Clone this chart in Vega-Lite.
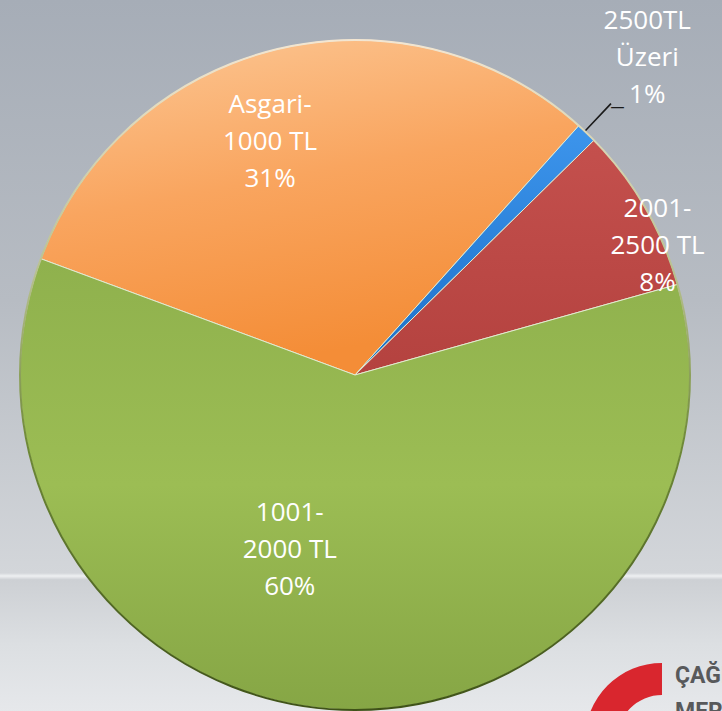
{
  "$schema": "https://vega.github.io/schema/vega-lite/v6.json",
  "width": 710,
  "height": 750,
  "padding": {"left": 0, "top": 0, "right": 12, "bottom": 0},
  "autosize": {"type": "none"},
  "background": "#c4c8cd",
  "config": {
    "view": {"stroke": null},
    "text": {"font": "Open Sans", "fontSize": 26, "fill": "#ffffff", "lineHeight": 37, "align": "center", "baseline": "middle"}
  },
  "data": {
    "values": [
      {"cat": "Asgari-1000 TL", "pct": 31, "ord": 1, "label": ["Asgari-", "1000 TL", "31%"]},
      {"cat": "2500TL Üzeri", "pct": 1, "ord": 2, "label": ["2500TL", "Üzeri", "1%"]},
      {"cat": "2001-2500 TL", "pct": 8, "ord": 3, "label": ["2001-", "2500 TL", "8%"]},
      {"cat": "1001-2000 TL", "pct": 60, "ord": 4, "label": ["1001-", "2000 TL", "60%"]}
    ]
  },
  "layer": [
    {
      "transform": [{"filter": "datum.ord === 1"}],
      "mark": {"type": "rect", "x": 0, "x2": {"expr": "width + 12"}, "y": 0, "y2": {"expr": "height"}, "fill": {"gradient": "linear", "x1": 0, "y1": 0, "x2": 0, "y2": 1, "stops": [{"offset": 0, "color": "#a6adb7"}, {"offset": 0.4, "color": "#b7bcc3"}, {"offset": 0.764, "color": "#d3d6da"}, {"offset": 0.768, "color": "#eef0f2"}, {"offset": 0.773, "color": "#cdd0d4"}, {"offset": 0.86, "color": "#dcdfe2"}, {"offset": 0.95, "color": "#e6e8eb"}]}},
      "encoding": {}
    },
    {
      "transform": [{"filter": "datum.ord === 1"}],
      "mark": {"type": "arc", "x": 662, "y": 740, "radius": 77, "radius2": 45, "theta": 4.712, "theta2": 6.283, "fill": "#d9262e"},
      "encoding": {}
    },
    {
      "transform": [{"filter": "datum.ord === 1"}],
      "mark": {"type": "text", "text": "ÇAĞRI", "x": 675, "y": 683, "align": "left", "baseline": "alphabetic", "font": "Roboto", "fontWeight": "bold", "fontSize": 23, "fill": "#58595b"},
      "encoding": {}
    },
    {
      "transform": [{"filter": "datum.ord === 1"}],
      "mark": {"type": "text", "text": "MERKEZİ", "x": 675, "y": 719, "align": "left", "baseline": "alphabetic", "font": "Roboto", "fontWeight": "bold", "fontSize": 23, "fill": "#58595b"},
      "encoding": {}
    },
    {
      "mark": {"type": "arc", "outerRadius": 335},
      "encoding": {
        "theta": {"field": "pct", "type": "quantitative", "stack": true, "scale": {"domain": [0, 100], "range": [5.067, 11.350]}},
        "order": {"field": "ord", "type": "quantitative"},
        "fill": {
          "condition": [
            {"test": "datum.cat === 'Asgari-1000 TL'", "value": {"gradient": "linear", "x1": 0, "y1": 0, "x2": 0.3, "y2": 1, "stops": [{"offset": 0, "color": "#fcc896"}, {"offset": 0.5, "color": "#f9a55f"}, {"offset": 1, "color": "#f48d37"}]}},
            {"test": "datum.cat === '2500TL Üzeri'", "value": {"gradient": "linear", "x1": 0, "y1": 0, "x2": 0, "y2": 1, "stops": [{"offset": 0, "color": "#3d95ec"}, {"offset": 1, "color": "#1b6fc8"}]}},
            {"test": "datum.cat === '2001-2500 TL'", "value": {"gradient": "linear", "x1": 0, "y1": 0, "x2": 0, "y2": 1, "stops": [{"offset": 0, "color": "#c4504d"}, {"offset": 1, "color": "#b4423f"}]}}
          ],
          "value": {"gradient": "linear", "x1": 0, "y1": 0, "x2": 0, "y2": 1, "stops": [{"offset": 0, "color": "#8fb14d"}, {"offset": 0.5, "color": "#9cbd54"}, {"offset": 1, "color": "#86a645"}]}
        },
        "stroke": {"value": "#e2ead0"},
        "strokeWidth": {"value": 1}
      }
    },
    {
      "transform": [{"filter": "datum.ord === 1"}],
      "mark": {"type": "arc", "outerRadius": 335, "fill": null, "strokeWidth": 2, "stroke": {"gradient": "linear", "x1": 0, "y1": 0, "x2": 0, "y2": 1, "stops": [{"offset": 0, "color": "#f3e6d2"}, {"offset": 0.35, "color": "#b7c08f"}, {"offset": 0.6, "color": "#6f8a38"}, {"offset": 1, "color": "#3f5218"}]}},
      "encoding": {}
    },
    {
      "transform": [{"filter": "datum.ord === 1"}],
      "mark": {"type": "arc", "theta": 0.754, "theta2": 0.7585, "radius": 336, "radius2": 373, "fill": "#1a1a1a"},
      "encoding": {}
    },
    {
      "transform": [{"filter": "datum.ord === 1"}],
      "mark": {"type": "text", "text": "—", "theta": 0.757, "radius": 372, "dx": 7, "dy": 3, "fontSize": 14, "fill": "#1a1a1a"},
      "encoding": {}
    },
    {
      "mark": {"type": "text", "radius": 250, "dx": -25, "dy": -27},
      "encoding": {
        "theta": {"field": "pct", "type": "quantitative", "stack": true, "scale": {"domain": [0, 100], "range": [5.067, 11.350]}},
        "order": {"field": "ord", "type": "quantitative"},
        "text": {"condition": {"test": "datum.ord === 1", "field": "label"}, "value": ""}
      }
    },
    {
      "mark": {"type": "text", "radius": 420, "dx": 2, "dy": -50},
      "encoding": {
        "theta": {"field": "pct", "type": "quantitative", "stack": true, "scale": {"domain": [0, 100], "range": [5.067, 11.350]}},
        "order": {"field": "ord", "type": "quantitative"},
        "text": {"condition": {"test": "datum.ord === 2", "field": "label"}, "value": ""}
      }
    },
    {
      "mark": {"type": "text", "radius": 330, "dx": 17, "dy": -1},
      "encoding": {
        "theta": {"field": "pct", "type": "quantitative", "stack": true, "scale": {"domain": [0, 100], "range": [5.067, 11.350]}},
        "order": {"field": "ord", "type": "quantitative"},
        "text": {"condition": {"test": "datum.ord === 3", "field": "label"}, "value": ""}
      }
    },
    {
      "mark": {"type": "text", "radius": 180, "dx": -58, "dy": -42},
      "encoding": {
        "theta": {"field": "pct", "type": "quantitative", "stack": true, "scale": {"domain": [0, 100], "range": [5.067, 11.350]}},
        "order": {"field": "ord", "type": "quantitative"},
        "text": {"condition": {"test": "datum.ord === 4", "field": "label"}, "value": ""}
      }
    }
  ]
}
